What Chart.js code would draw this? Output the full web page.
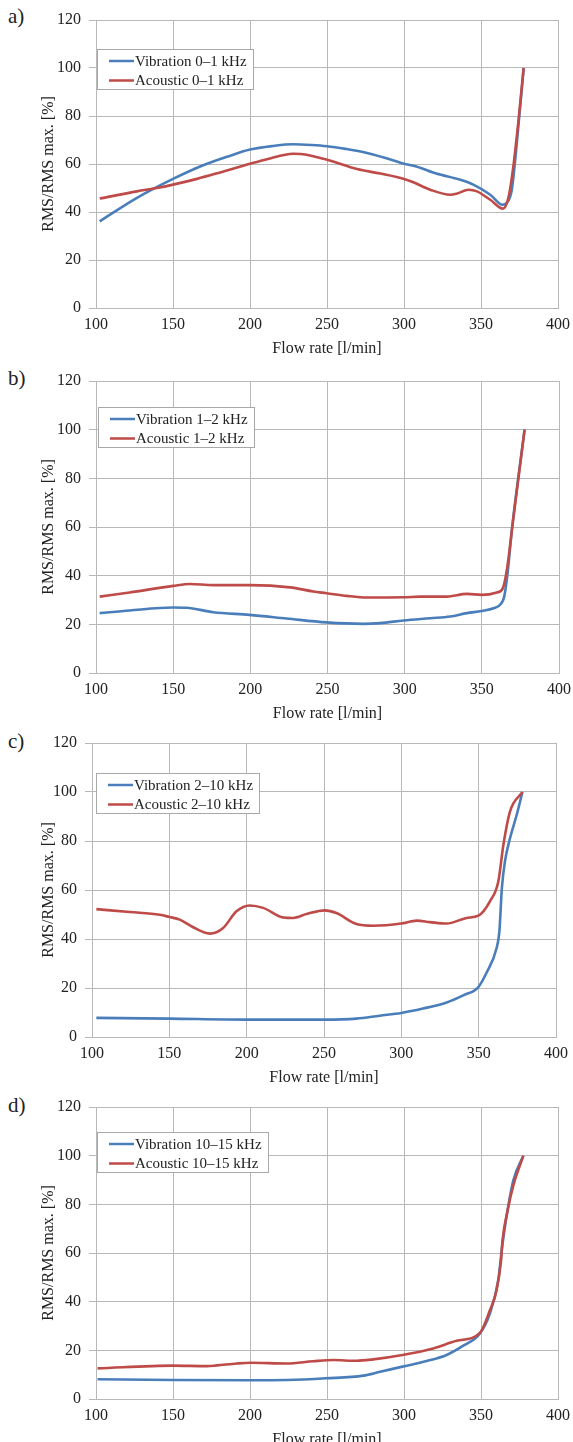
<!DOCTYPE html>
<html><head><meta charset="utf-8">
<script src="https://cdn.jsdelivr.net/npm/chart.js@4.4.1/dist/chart.umd.min.js"></script>
<style>
html,body{margin:0;padding:0;background:#fff;}
body{width:573px;height:1442px;overflow:hidden;position:relative;}
canvas{position:absolute;left:0;}
.lbl{position:absolute;left:8px;font-family:"Liberation Serif","Times New Roman",serif;font-size:21px;color:#222;line-height:24px;}
</style></head><body>
<div class="lbl" style="top:4px">a)</div>
<div class="lbl" style="top:366px">b)</div>
<div class="lbl" style="top:729px">c)</div>
<div class="lbl" style="top:1093px">d)</div>
<canvas id="cA" width="573" height="365" style="top:0px"></canvas>
<canvas id="cB" width="573" height="369" style="top:361px"></canvas>
<canvas id="cC" width="573" height="371" style="top:723px"></canvas>
<canvas id="cD" width="573" height="369" style="top:1087px"></canvas>
<script>
// ---- Panel a) 0–1 kHz ----
const flowA_vib = [102.4,125.5,150,170,185,200,215,228,240,250,262,274,288,300,308,321,336,345,356,364,367,370,373,377.7];
const rmsA_vib  = [36.1,45.5,53.8,59.6,63.0,66.0,67.5,68.2,67.9,67.4,66.3,64.9,62.5,60.1,59.0,56.0,53.5,51.4,47.2,43.0,44.0,49.3,67.0,100];
const flowA_ac  = [102.4,126.6,139.6,150,165.6,180.7,200,211,228,233,250,269.5,284.6,300,306,317,330,334,342,347.4,356,364.3,368,371,374.4,377.7];
const rmsA_ac   = [45.6,48.6,50.0,51.4,53.8,56.5,60.1,62.0,64.3,64.2,61.8,57.9,56.0,53.8,52.4,49.3,47.2,47.6,49.3,48.6,45.1,41.4,46.5,59.0,78.5,100];
// ---- Panel b) 1–2 kHz ----
const flowB_vib = [102.4,121.8,150,158.6,175.9,199.5,223.5,249.4,273.2,284,299.4,316.5,329.5,340.3,350,357.6,362.3,364.5,366.5,369.5,377.7];
const rmsB_vib  = [24.6,25.7,26.9,26.8,25.0,23.9,22.4,20.8,20.2,20.5,21.6,22.5,23.2,24.6,25.5,26.6,28.4,31.4,40.0,59.0,100];
const flowB_ac  = [102.4,121.8,150,160.8,175.9,199.5,225.7,240.8,249.4,262.4,275.4,299.4,310,327.3,340.3,350,359.7,363.6,366.2,370.5,377.7];
const rmsB_ac   = [31.4,33.1,35.8,36.6,36.1,36.1,35.2,33.5,32.8,31.7,31.0,31.1,31.4,31.4,32.5,32.1,33.1,34.8,42.3,64.0,100];
// ---- Panel c) 2–10 kHz ----
const flowC_vib = [102.8,150,200,250,271,286,300,314,329.3,340,349.8,355,361.6,363.4,365,367,370.3,374.6,378.3];
const rmsC_vib  = [7.8,7.5,7.1,7.1,7.5,8.7,9.8,11.6,14.1,17.0,20.4,26.1,36.3,43.1,60.8,71.7,81.2,90.7,100];
const flowC_ac  = [102.8,124.4,143.8,150,156.7,165.4,176.2,184.8,193.4,202,210.7,223.6,230,238.7,250.5,258,271,281.8,300,310,318.5,329.3,342.2,349.8,357.3,362.7,366,370.3,378.3];
const rmsC_ac   = [52.2,51.0,49.9,49.0,47.9,44.8,42.2,44.5,51.3,53.7,52.7,48.8,48.6,50.2,51.7,50.6,46.1,45.4,46.3,47.5,46.9,46.3,48.6,49.5,55.4,63.5,78.5,92.1,100];
// ---- Panel d) 10–15 kHz ----
const flowD_vib = [101,150,200,224,249.4,273.6,284.5,299,314.7,327.7,338.5,349.3,355.8,361.2,364,367.6,371,377.5];
const rmsD_vib  = [8.1,7.8,7.7,7.8,8.5,9.6,11.2,13.3,15.6,18.1,21.9,26.9,35.2,48.8,63.9,78.9,89.9,100];
const flowD_ac  = [101,150,172,178.5,191.5,200,224,241,254,269.3,280,299,319,334.2,349.3,355.8,360.1,363,364,367.3,371,377.5];
const rmsD_ac   = [12.6,13.7,13.5,13.8,14.6,14.9,14.6,15.5,16.0,15.7,16.3,18.1,20.8,23.9,27.2,36.5,44.7,57.0,65.3,77.6,87.8,100];

const seriesNames = {
  a: ['Vibration 0–1 kHz','Acoustic 0–1 kHz'],
  b: ['Vibration 1–2 kHz','Acoustic 1–2 kHz'],
  c: ['Vibration 2–10 kHz','Acoustic 2–10 kHz'],
  d: ['Vibration 10–15 kHz','Acoustic 10–15 kHz']
};
const xTitle = 'Flow rate [l/min]';
const yTitle = 'RMS/RMS max. [%]';

const FAM = '"Liberation Serif","Times New Roman",serif';
const BLUE = '#4a7ebb', RED = '#be4b48', GRID = '#b8b8b8', TXT = '#222';

const zip = (xs, ys) => xs.map((x, i) => ({x: x, y: ys[i]}));

const boxLegend = {
  id: 'boxLegend',
  afterDatasetsDraw(chart, args, opts) {
    const ctx = chart.ctx, ca = chart.chartArea;
    ctx.save();
    ctx.font = '15px ' + FAM;
    const ds = chart.data.datasets;
    let maxW = 0;
    ds.forEach(d => { maxW = Math.max(maxW, ctx.measureText(d.label).width); });
    const L = Math.round(ca.left + opts.dx), T = Math.round(ca.top + opts.dy);
    const W = Math.round(38 + maxW + 6), H = 40;
    ctx.fillStyle = '#fff';
    ctx.fillRect(L, T, W, H);
    ctx.strokeStyle = '#a8a8a8'; ctx.lineWidth = 1;
    ctx.strokeRect(L + 0.5, T + 0.5, W, H);
    ds.forEach((d, i) => {
      const y = T + 12 + i * 19.5;
      ctx.strokeStyle = d.borderColor; ctx.lineWidth = 2.5;
      ctx.beginPath(); ctx.moveTo(L + 12, y); ctx.lineTo(L + 37, y); ctx.stroke();
      ctx.fillStyle = TXT; ctx.textBaseline = 'middle'; ctx.textAlign = 'left';
      ctx.fillText(d.label, L + 38, y + 1);
    });
    ctx.restore();
  }
};

function makePanel(id, names, vx, vy, ax, ay, leftW, rightPad, legDx, legDy) {
  const ds = (label, xs, ys, color, order) => ({
    label: label, data: zip(xs, ys), borderColor: color, backgroundColor: color,
    borderWidth: 2.6, pointRadius: 0, tension: 0.4, cubicInterpolationMode: 'monotone',
    fill: false, order: order
  });
  new Chart(document.getElementById(id), {
    type: 'line',
    data: { datasets: [ ds(names[0], vx, vy, BLUE, 1), ds(names[1], ax, ay, RED, 0) ] },
    options: {
      responsive: false, animation: false, devicePixelRatio: 1,
      layout: { padding: { top: 20, right: rightPad, left: 0, bottom: 0 } },
      plugins: { legend: { display: false }, tooltip: { enabled: false },
                 boxLegend: { dx: legDx, dy: legDy } },
      scales: {
        x: {
          type: 'linear', min: 100, max: 400,
          ticks: { stepSize: 50, padding: 7, maxRotation: 0, autoSkip: false, color: TXT, font: { family: FAM, size: 16 } },
          grid: { color: GRID, drawTicks: false },
          border: { color: GRID },
          title: { display: true, text: xTitle, color: TXT, font: { family: FAM, size: 16 }, padding: { top: 0, bottom: 7 } },
          afterFit: s => { s.height = 57; s.paddingRight = 0; s.paddingLeft = 0; }
        },
        y: {
          min: 0, max: 120,
          ticks: { stepSize: 20, padding: 8, color: TXT, font: { family: FAM, size: 16 } },
          grid: { color: GRID, tickLength: 7 },
          border: { color: GRID },
          title: { display: true, text: yTitle, color: TXT, font: { family: FAM, size: 16 }, padding: { top: 39, bottom: 0 } },
          afterFit: s => { s.width = leftW; }
        }
      }
    },
    plugins: [boxLegend]
  });
}

makePanel('cA', seriesNames.a, flowA_vib, rmsA_vib, flowA_ac, rmsA_ac, 96, 15, 0.5, 29);
makePanel('cB', seriesNames.b, flowB_vib, rmsB_vib, flowB_ac, rmsB_ac, 96, 14, 1.5, 26);
makePanel('cC', seriesNames.c, flowC_vib, rmsC_vib, flowC_ac, rmsC_ac, 92, 17, 3.5, 30);
makePanel('cD', seriesNames.d, flowD_vib, rmsD_vib, flowD_ac, rmsD_ac, 96, 15, 1, 25);
</script>
</body></html>
